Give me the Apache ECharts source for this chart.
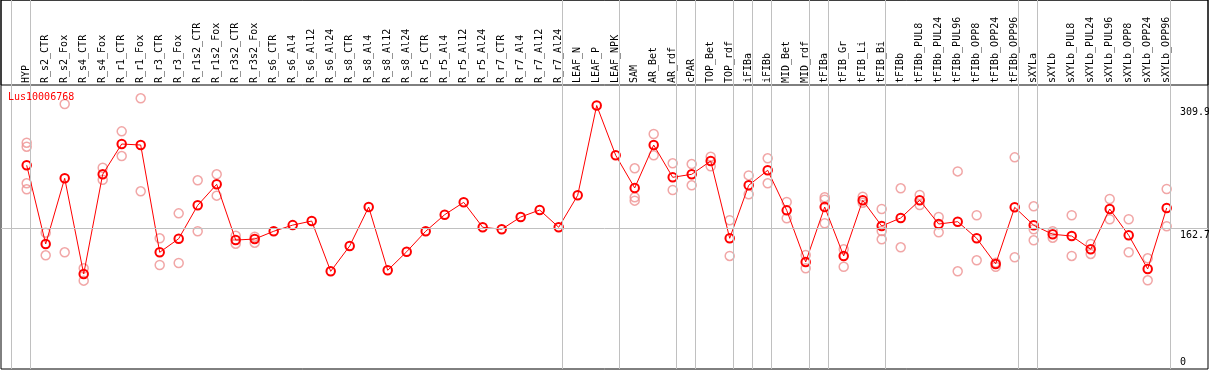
<!DOCTYPE html>
<html>
<head>
<meta charset="utf-8">
<script src="https://cdn.jsdelivr.net/npm/echarts@6/dist/echarts.min.js"></script>
<style>
html,body{margin:0;padding:0;background:#fff;}
#chart{width:1209px;height:370px;}
</style>
</head>
<body>
<div id="chart"></div>
<script>
const geneName = 'Lus10006768';
const categories = ['HYP','R_s2_CTR','R_s2_Fox','R_s4_CTR','R_s4_Fox','R_r1_CTR','R_r1_Fox','R_r3_CTR','R_r3_Fox','R_r1s2_CTR','R_r1s2_Fox','R_r3s2_CTR','R_r3s2_Fox','R_s6_CTR','R_s6_Al4','R_s6_Al12','R_s6_Al24','R_s8_CTR','R_s8_Al4','R_s8_Al12','R_s8_Al24','R_r5_CTR','R_r5_Al4','R_r5_Al12','R_r5_Al24','R_r7_CTR','R_r7_Al4','R_r7_Al12','R_r7_Al24','LEAF_N','LEAF_P','LEAF_NPK','SAM','AR_Bet','AR_rdf','cPAR','TOP_Bet','TOP_rdf','iFIBa','iFIBb','MID_Bet','MID_rdf','tFIBa','tFIB_Gr','tFIB_Li','tFIB_Bi','tFIBb','tFIBb_PUL8','tFIBb_PUL24','tFIBb_PUL96','tFIBb_OPP8','tFIBb_OPP24','tFIBb_OPP96','sXYLa','sXYLb','sXYLb_PUL8','sXYLb_PUL24','sXYLb_PUL96','sXYLb_OPP8','sXYLb_OPP24','sXYLb_OPP96'];
const means = [238.2,143.9,222.6,107.9,227.4,263.7,262.5,133.9,150.2,190.2,215.4,148.6,149.8,159.1,166.5,171.4,111.1,141.5,188.2,112.3,134.6,159.1,179.0,193.8,163.9,161.5,176.2,184.6,163.9,202.2,309.9,250.2,211.0,262.5,223.8,227.4,243.3,150.7,214.2,232.2,184.2,122.3,188.2,129.5,196.2,165.4,175.0,196.2,167.8,170.6,150.7,119.9,187.8,166.3,155.5,153.4,137.5,185.8,154.3,113.9,187.0];
const replicates = [
  [265.3,260.5,216.6,209.4],[157.4,130.3],[311.7,133.9],[114.7,99.9],[235.3,220.9],
  [278.9,249.3],[318.5,207.0],[150.7,118.7],[180.6,121.1],[220.2,159.1],
  [227.4,201.8],[153.8,144.2],[152.6,145.4],[],[],
  [],[],[],[],[],
  [],[],[],[],[],
  [],[],[],[],[],
  [],[],[234.6,199.8,195.8],[275.7,250.2],[240.6,208.6],
  [239.7,214.2],[248.5,237.0],[172.3,129.5],[226.1,203.4],[246.6,216.6],
  [194.2,174.7],[130.7,114.7],[199.8,197.0,168.7],[137.5,116.6],[200.6,193.4],
  [185.8,159.4,149.5],[210.6,139.9],[202.6,190.6],[176.2,157.9],[230.9,111.1],
  [178.3,124.3],[121.5,116.6],[247.7,127.9],[189.0,161.5,148.3],[159.1,151.4],
  [178.3,129.5],[143.9,131.9],[197.8,173.5],[173.5,133.9],[126.7,100.3],
  [209.8,165.1]
];
const groupEnds = [-1,0,28,31,34,35,37,38,39,41,42,45,52,53,60];
const yTicks = [0,162.7,309.9];

const MONO = 'DejaVu Sans Mono';
const Y_MIN = -6, Y_MAX = 436.35;

const repData = [];
replicates.forEach((arr,i)=>arr.forEach(v=>repData.push([i,v])));

const chart = echarts.init(document.getElementById('chart'), null, {renderer:'canvas'});
chart.setOption({
  animation:false,
  backgroundColor:'#fff',
  title:{text:geneName,left:8,top:92,padding:0,textStyle:{color:'#ff0000',fontFamily:MONO,fontSize:10,fontWeight:'normal'}},
  grid:[
    {left:1,top:0,right:1,bottom:1,show:true,borderColor:'#000',borderWidth:1,backgroundColor:'transparent'},
    {left:1,top:0,right:1,height:85,show:true,borderColor:'#000',borderWidth:1,backgroundColor:'transparent'},
    {left:7.7,top:0,width:1197,bottom:1}
  ],
  xAxis:[
    {gridIndex:0,type:'value',min:0,max:1,show:false},
    {gridIndex:1,type:'value',min:0,max:1,show:false},
    {gridIndex:2,type:'value',min:-1,max:62,interval:1,position:'top',offset:-85,
     axisLine:{show:false},axisTick:{show:false},splitLine:{show:false},
     axisLabel:{rotate:90,margin:2,fontFamily:MONO,fontSize:10,color:'#000',
       formatter:v=>{const k=Math.round(v);return (Math.abs(v-k)<1e-6 && categories[k])?categories[k]:'';}}}
  ],
  yAxis:[
    {gridIndex:0,type:'value',min:Y_MIN,max:Y_MAX,show:false},
    {gridIndex:1,type:'value',min:0,max:1,show:false},
    {gridIndex:2,type:'value',min:Y_MIN,max:Y_MAX,show:false}
  ],
  series:[
    {type:'line',xAxisIndex:0,yAxisIndex:0,data:[],silent:true,
     markLine:{silent:true,symbol:'none',animation:false,
       data:yTicks.map(v=>({yAxis:v,
         lineStyle:{color:(v===yTicks[1])?'#c0c0c0':'rgba(0,0,0,0)',width:1,type:'solid'},
         label:{show:true,position:(v===0)?'insideEndTop':'insideEndBottom',distance:[28,2],
           align:'left',offset:(v===0)?[0,5]:[0,0],
           formatter:String(v),color:'#000',fontFamily:MONO,fontSize:10}}))}},
    {type:'scatter',xAxisIndex:2,yAxisIndex:2,data:repData,symbol:'circle',symbolSize:9,z:2,
     itemStyle:{color:'rgba(0,0,0,0)',borderColor:'#ee9090',borderWidth:1.5}},
    {type:'line',xAxisIndex:2,yAxisIndex:2,name:geneName,data:means.map((v,i)=>[i,v]),z:3,
     symbol:'circle',symbolSize:8.5,showAllSymbol:true,
     itemStyle:{color:'rgba(0,0,0,0)',borderColor:'#ff0000',borderWidth:2},
     lineStyle:{color:'#ff0000',width:1},
     markLine:{silent:true,symbol:'none',animation:false,label:{show:false},
       lineStyle:{color:'#c0c0c0',width:1,type:'solid'},
       data:groupEnds.map(i=>({xAxis:i+0.2}))}}
  ]
});
</script>
</body>
</html>
